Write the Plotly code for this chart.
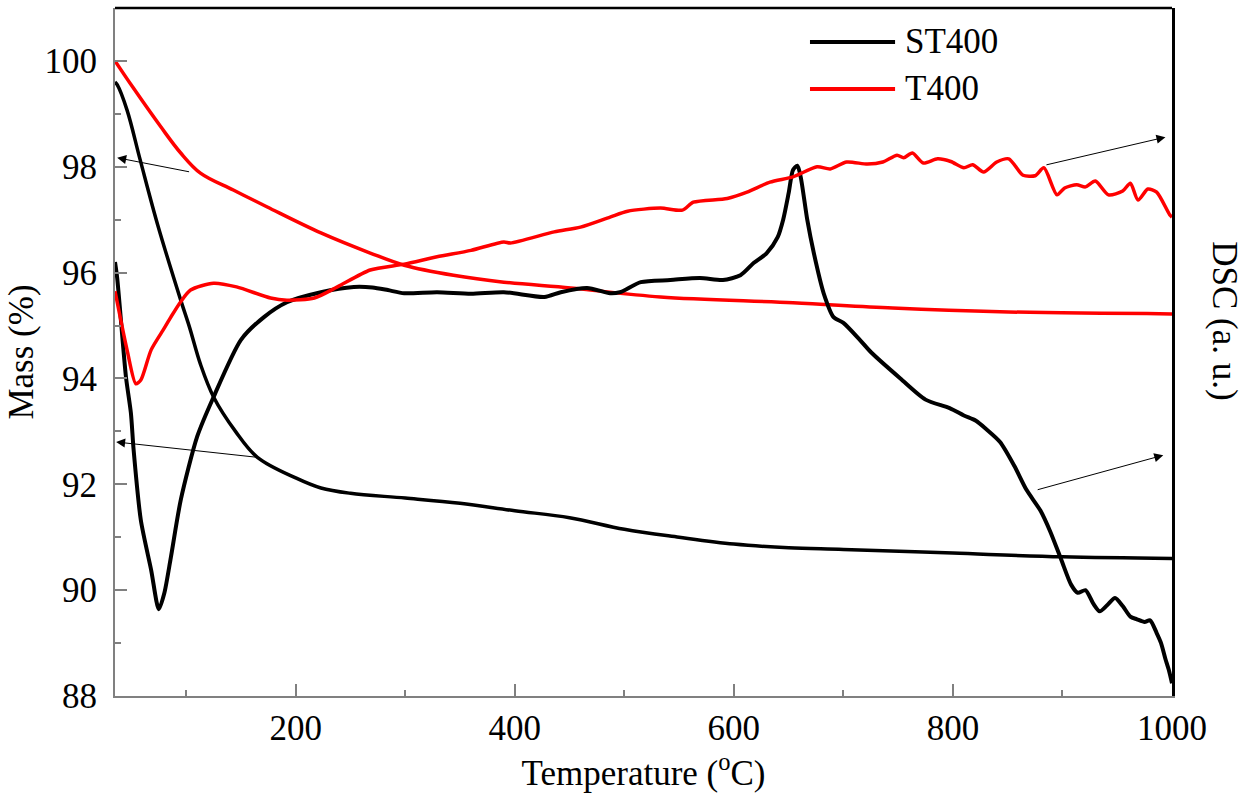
import plotly.graph_objects as go

# ---- TG (mass loss) curves, left axis ----
temp_st_tg = [35, 37, 46, 58, 74, 95, 103, 113, 125, 145, 165, 200, 223, 250, 300,
              350, 400, 450, 500, 550, 600, 650, 700, 800, 900, 1000]
mass_st = [99.6, 99.55, 99.07, 98.13, 96.9, 95.48, 94.97, 94.27, 93.65, 93.0, 92.51,
           92.12, 91.93, 91.83, 91.74, 91.64, 91.5, 91.37, 91.15, 91.0, 90.87, 90.8,
           90.77, 90.7, 90.63, 90.6]

temp_t_tg = [35, 51, 77, 95, 113, 143, 174, 223, 268, 299, 344, 390, 451, 533, 654,
             745, 843, 1000]
mass_t = [100.0, 99.51, 98.75, 98.26, 97.88, 97.56, 97.24, 96.75, 96.37, 96.14, 95.95,
          95.82, 95.71, 95.54, 95.43, 95.33, 95.26, 95.22]

# ---- DSC curves, right axis (arbitrary units) ----
temp_st_dsc = [35, 37, 45, 49.5, 52, 58.6, 68, 75, 80, 86, 95, 110, 125, 150, 171, 192,
               223, 253, 270, 284, 299, 329, 360, 390, 427, 442, 466, 487, 496, 515,
               542, 569, 590, 606, 618, 630, 640, 645, 650, 654, 658, 661, 667, 673,
               682, 691, 700, 715, 725, 752, 775, 797, 810, 821, 830, 843, 856, 867,
               880, 889, 899, 908, 914, 921, 928, 934, 941, 948, 955, 962, 968, 975,
               980, 986, 990, 994, 997, 1000]
dsc_st = [96.2, 95.9, 94.03, 93.35, 92.65, 91.32, 90.38, 89.64, 89.94, 90.62, 91.7,
          92.9, 93.65, 94.73, 95.16, 95.44, 95.63, 95.73, 95.72, 95.67, 95.61, 95.63,
          95.6, 95.63, 95.54, 95.63, 95.71, 95.61, 95.63, 95.82, 95.86, 95.9, 95.86,
          95.95, 96.18, 96.37, 96.67, 97.0, 97.5, 97.94, 98.02, 97.81, 97.0, 96.37,
          95.61, 95.16, 95.05, 94.73, 94.5, 94.0, 93.6, 93.44, 93.3, 93.2, 93.05, 92.8,
          92.35, 91.9, 91.5, 91.1, 90.57, 90.1, 89.95, 90.0, 89.75, 89.6, 89.72, 89.85,
          89.7, 89.5, 89.45, 89.4, 89.43, 89.19, 89.0, 88.7, 88.5, 88.24]

temp_t_dsc = [35, 46, 54, 58.6, 68, 80, 86, 95, 104, 125, 146, 177, 192, 217, 238, 268,
              299, 329, 360, 390, 396, 436, 460, 487, 503, 533, 553, 563, 594, 612, 633,
              654, 676, 688, 703, 722, 736, 749, 755, 763, 773, 786, 798, 810, 818, 828,
              840, 851, 864, 875, 883, 895, 902, 913, 921, 930, 942, 955, 962, 969, 978,
              986, 998, 1000]
dsc_t = [95.65, 94.54, 93.9, 93.97, 94.54, 94.95, 95.16, 95.45, 95.67, 95.8, 95.73,
         95.52, 95.48, 95.52, 95.73, 96.05, 96.16, 96.3, 96.42, 96.58, 96.56, 96.77,
         96.86, 97.05, 97.16, 97.22, 97.18, 97.33, 97.4, 97.52, 97.71, 97.81, 98.0,
         97.96, 98.09, 98.05, 98.09, 98.22, 98.17, 98.26, 98.07, 98.15, 98.1, 97.98,
         98.04, 97.9, 98.09, 98.15, 97.84, 97.83, 97.98, 97.47, 97.6, 97.66, 97.62,
         97.73, 97.47, 97.54, 97.69, 97.37, 97.58, 97.52, 97.09, 97.05]

# arrows pointing each curve to its axis: (head_x, head_y, tail_x, tail_y)
arrows = [
    (37, 98.17, 104, 97.9),
    (36, 92.8, 165, 92.51),
    (994, 98.56, 884, 98.03),
    (992, 92.55, 876, 91.89),
]

series_names = ["ST400", "T400"]
series_colors = ["#000000", "#ff0000"]

FONT = "Liberation Serif"
FS = 35
AXIS_GREY = "#808080"

fig = go.Figure()

fig.add_trace(go.Scatter(x=temp_st_tg, y=mass_st, mode="lines", name="ST400",
                         line=dict(color=series_colors[0], width=3.5, shape="spline"),
                         showlegend=False))
fig.add_trace(go.Scatter(x=temp_t_tg, y=mass_t, mode="lines", name="T400",
                         line=dict(color=series_colors[1], width=3.5, shape="spline"),
                         showlegend=False))
fig.add_trace(go.Scatter(x=temp_st_dsc, y=dsc_st, mode="lines", name="ST400 DSC",
                         line=dict(color=series_colors[0], width=4, shape="spline",
                                   smoothing=0.7),
                         yaxis="y2", showlegend=False))
fig.add_trace(go.Scatter(x=temp_t_dsc, y=dsc_t, mode="lines", name="T400 DSC",
                         line=dict(color=series_colors[1], width=3.5, shape="spline",
                                   smoothing=0.7),
                         yaxis="y2", showlegend=False))

for hx, hy, tx, ty in arrows:
    fig.add_annotation(x=hx, y=hy, ax=tx, ay=ty, xref="x", yref="y", axref="x", ayref="y",
                       showarrow=True, arrowhead=2, arrowsize=1.8, arrowwidth=1,
                       arrowcolor="black", text="")

# legend drawn as line samples with labels
legend_y = [0.9506, 0.8823]
for name, color, ly in zip(series_names, series_colors, legend_y):
    fig.add_shape(type="line", xref="paper", yref="paper", x0=0.6575, x1=0.738,
                  y0=ly, y1=ly, line=dict(color=color, width=4))
    fig.add_annotation(x=0.7455, y=ly, xref="paper", yref="paper", text=name,
                       showarrow=False, xanchor="left", yanchor="middle",
                       font=dict(family=FONT, size=FS, color="black"))

# top frame line
fig.add_shape(type="line", xref="paper", yref="paper", x0=0, x1=1, y0=1, y1=1,
              line=dict(color="black", width=2.5))

# right axis title
fig.add_annotation(x=1.050, y=0.545, xref="paper", yref="paper", text="DSC (a. u.)",
                   showarrow=False, textangle=90, xanchor="center", yanchor="middle",
                   font=dict(family=FONT, size=FS, color="black"))

fig.update_layout(
    width=1256, height=796,
    margin=dict(l=115, r=84, t=8, b=100),
    paper_bgcolor="white", plot_bgcolor="white",
    font=dict(family=FONT, size=FS, color="black"),
    xaxis=dict(
        range=[35, 1000], tick0=0, dtick=200, ticks="inside", ticklen=12,
        tickwidth=1.5, tickcolor=AXIS_GREY, showline=True, linecolor=AXIS_GREY,
        linewidth=2, showgrid=False, zeroline=False, ticklabelstandoff=0,
        minor=dict(ticks="inside", ticklen=6, dtick=100, tick0=0, tickcolor=AXIS_GREY,
                   tickwidth=1.5, showgrid=False),
        title=dict(text="Temperature (<sup>o</sup>C)", standoff=0,
                   font=dict(family=FONT, size=FS)),
    ),
    yaxis=dict(
        range=[88, 101], tick0=88, dtick=2, ticks="inside", ticklen=12,
        tickwidth=1.5, tickcolor=AXIS_GREY, showline=True, linecolor=AXIS_GREY,
        linewidth=2, showgrid=False, zeroline=False, ticklabelstandoff=9,
        minor=dict(ticks="inside", ticklen=6, dtick=1, tick0=88, tickcolor=AXIS_GREY,
                   tickwidth=1.5, showgrid=False),
        title=dict(text="Mass (%)", standoff=0, font=dict(family=FONT, size=FS)),
    ),
    yaxis2=dict(
        range=[88, 101], overlaying="y", side="right", showticklabels=False,
        ticks="", showline=True, linecolor="black", linewidth=2.5, showgrid=False,
        zeroline=False,
    ),
)

fig.write_html("out.html")
